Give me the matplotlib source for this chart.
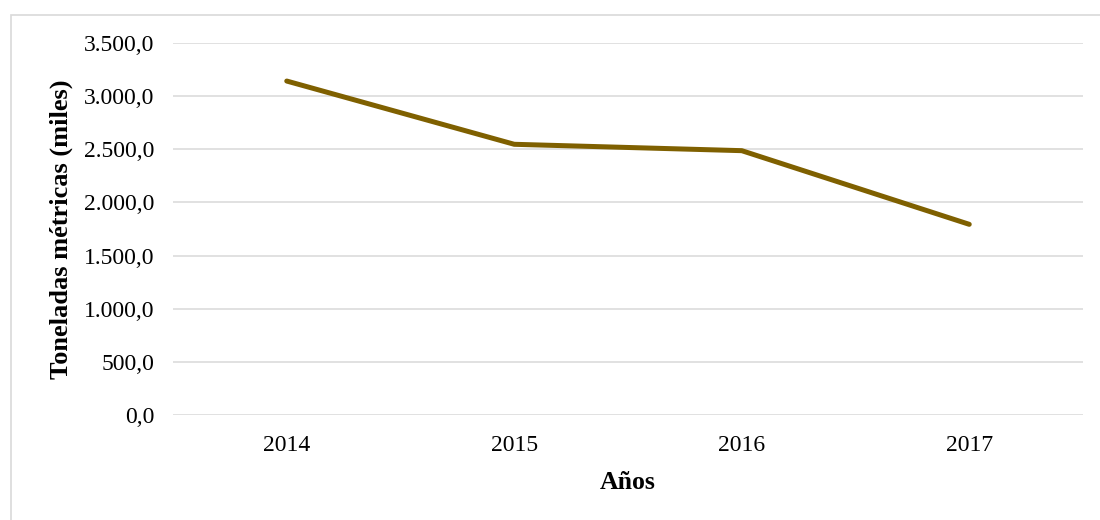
import matplotlib
matplotlib.use("Agg")
import matplotlib.pyplot as plt
from matplotlib.patches import Rectangle
from matplotlib.ticker import FuncFormatter

# data
years = ["2014", "2015", "2016", "2017"]
toneladas = [3142, 2547, 2487, 1794]
y_ticks = [0, 500, 1000, 1500, 2000, 2500, 3000, 3500]

plt.rcParams['font.family'] = ['Liberation Serif', 'DejaVu Serif']

fig = plt.figure(figsize=(11, 5.2), dpi=100)
ax = fig.add_axes([173 / 1100, 1 - 415 / 520, 910 / 1100, 372 / 520])

x = range(len(years))
ax.plot(x, toneladas, color='#7F6000', linewidth=3.6, solid_capstyle='round',
        solid_joinstyle='round', zorder=3)

ax.set_xlim(-0.5, len(years) - 0.5)
ax.set_ylim(0, 3500)
ax.set_yticks(y_ticks)
ax.yaxis.set_major_formatter(FuncFormatter(
    lambda v, p: f"{v:,.1f}".replace(",", "X").replace(".", ",").replace("X", ".")))
ax.set_xticks(list(x))
ax.set_xticklabels(years)

ax.grid(axis='y', color='#D9D9D9', linewidth=1.1)
ax.set_axisbelow(True)
for s in ax.spines.values():
    s.set_visible(False)
ax.tick_params(axis='both', length=0, labelsize=17, colors='#000000')
ax.tick_params(axis='y', pad=13.5)
ax.tick_params(axis='x', pad=14.5)

ax.set_xlabel("Años", fontsize=18.5, fontweight='bold', labelpad=11)
ax.set_ylabel("Toneladas métricas (miles)", fontsize=19, fontweight='bold', labelpad=8)

# outer chart border (right and bottom fall outside the image)
fig.patches.append(Rectangle((10.5 / 1100, -0.1), 1.2, 1 - 14.5 / 520 + 0.1,
                             transform=fig.transFigure, fill=False,
                             edgecolor='#D9D9D9', linewidth=1.2))

fig.savefig("out.png", dpi=100)
